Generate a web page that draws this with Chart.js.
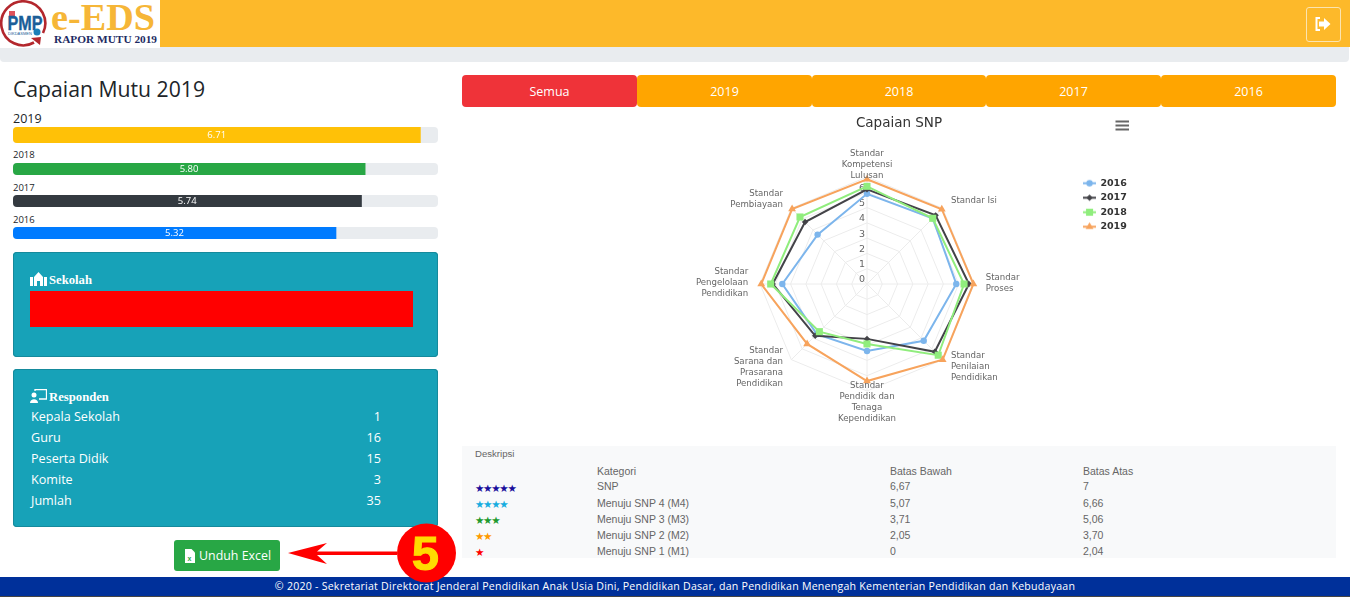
<!DOCTYPE html>
<html lang="id"><head><meta charset="utf-8"><title>Capaian SNP</title>
<script src="https://cdn.jsdelivr.net/npm/chart.js@4"></script>
<style>
html,body{margin:0;padding:0;background:#fff;width:1350px;height:597px;overflow:hidden;font-family:"Open Sans",sans-serif;color:#212529}
.a{position:absolute;white-space:nowrap}
canvas{display:block}
.tab{position:absolute;top:75px;height:32px;line-height:33.5px;text-align:center;color:#fff;font-size:12.5px;background:#ffa500;border-radius:4px}
.box{position:absolute;left:13px;width:425px;background:#17a2b8;border-radius:4px;box-shadow:inset 0 0 0 1px #158a9c}
.bt{position:absolute;left:49px;font:bold 12.7px "Liberation Serif",serif;color:#fff}
.row{position:absolute;left:31px;width:350px;color:#fff;font-size:12.6px;line-height:21px;display:flex;justify-content:space-between}
.tb{position:absolute;font:10.5px "Liberation Sans",sans-serif;color:#666;white-space:nowrap;line-height:12px}
.st{position:absolute;left:475px;font:10.5px/12px "DejaVu Sans",sans-serif;letter-spacing:-1.3px}
</style></head><body>
<div class="a" style="left:0;top:0;width:1350px;height:47px;background:#fdb92a"></div>
<div class="a" style="left:0;top:47px;width:1349px;height:15px;background:#e9ecef;border-radius:0 0 4px 4px"></div>
<svg class="a" style="left:0;top:0" width="160" height="48" viewBox="0 0 160 48">
<rect width="160" height="48" fill="#fff"/>
<path d="M34 42.500A22 22 0 1 1 43 33" fill="none" stroke="#b3272d" stroke-width="2.600"/>
<path d="M31 38L41 37L40 45Z" fill="#b3272d"/>
<path d="M9 11H15V16H9Z" fill="#e0525a"/>
<text x="7.500" y="30" font-family="Liberation Sans" font-weight="bold" font-size="21" fill="#1b5e98" stroke="#1b5e98" stroke-width=".4" textLength="35" lengthAdjust="spacingAndGlyphs">PMP</text>
<text x="8" y="34.500" font-family="Liberation Sans" font-size="4" fill="#1b5e98">DIKDASMEN</text>
<circle cx="37" cy="32" r="3.500" fill="#1b7fb8"/>
<text x="51" y="30" font-family="Liberation Serif" font-weight="bold" font-size="38" fill="#f6b637" textLength="104" lengthAdjust="spacingAndGlyphs">e-EDS</text>
<text x="54" y="43" font-family="Liberation Serif" font-weight="bold" font-size="10.400" fill="#1d2a63" textLength="103" lengthAdjust="spacingAndGlyphs">RAPOR MUTU 2019</text>
</svg>
<div class="a" style="left:1306px;top:7px;width:33px;height:33px;border:1px solid #fbe4b0;border-radius:3px"></div>
<svg class="a" style="left:1315px;top:17px" width="16" height="14" viewBox="0 0 16 14"><path d="M5 1H1.500V13H5" fill="none" stroke="#fff" stroke-width="2"/><path d="M4 4.500H9V1L15.500 7L9 13V9.500H4Z" fill="#fff"/></svg>

<div class="a" id="pageTitle" style="left:13px;top:73px;font-size:21.2px;line-height:32px">Capaian Mutu 2019</div>
<div id="bars"></div>

<div class="box" style="top:252px;height:105px"></div>
<svg class="a" style="left:30px;top:272px" width="17" height="14" viewBox="0 0 17 14"><path d="M0 14V5H3V14ZM14 14V5H17V14ZM4 14V5L8.500 0L13 5V14H10V9H7V14Z" fill="#fff"/></svg>
<div class="bt" style="top:272.500px">Sekolah</div>
<div class="a" style="left:30px;top:291px;width:383px;height:36px;background:#f00"></div>

<div class="box" style="top:369px;height:158px"></div>
<svg class="a" style="left:30px;top:389px" width="17" height="14" viewBox="0 0 17 14"><circle cx="4" cy="6" r="2.500" fill="#fff"/><path d="M0 14C0 9 8 9 8 14Z" fill="#fff"/><path d="M5 2V0.500H16.500V10H9" fill="none" stroke="#fff" stroke-width="1.300"/></svg>
<div class="bt" style="top:389.500px">Responden</div>
<div id="resp"></div>

<div class="a" style="left:174px;top:540px;width:106px;height:31px;background:#28a745;border-radius:3px"></div>
<svg class="a" style="left:185px;top:549px" width="10" height="14" viewBox="0 0 10 14"><path d="M0 0H6.500L10 3.500V14H0Z" fill="#fff"/><text x="2.500" y="12" font-family="Liberation Sans" font-weight="bold" font-size="7" fill="#28a745">x</text></svg>
<div class="a" style="left:199px;top:546px;font-size:12.4px;line-height:20px;color:#fff">Unduh Excel</div>

<div class="a" style="left:462px;top:446px;width:874px;height:112px;background:#f8f9fa"></div>
<div id="table"></div>

<div id="tabs"></div>
<div class="a" style="left:462px;top:110px"><canvas id="radar" width="874" height="330" style="width:874px;height:330px"></canvas></div>
<svg class="a" style="left:1115px;top:120px" width="15" height="11"><path d="M0.500 1.500H14M0.500 5.500H14M0.500 9.500H14" stroke="#666" stroke-width="2"/></svg>

<div class="a" style="left:0;top:577px;width:1350px;height:19px;background:#00309a;color:#fff;text-align:center;font-size:10.6px;line-height:19px;letter-spacing:.23px">© 2020 - Sekretariat Direktorat Jenderal Pendidikan Anak Usia Dini, Pendidikan Dasar, dan Pendidikan Menengah Kementerian Pendidikan dan Kebudayaan</div>
<div class="a" style="left:0;top:596px;width:1350px;height:1px;background:#444"></div>

<svg class="a" style="left:285px;top:520px" width="175" height="66" viewBox="285 520 175 66">
<path d="M288 553L327 543L317 551.500H397V555H317L327 564Z" fill="#f00"/>
<circle cx="426.500" cy="553" r="29.500" fill="#f00"/>
<text x="425.500" y="570" text-anchor="middle" font-family="Liberation Sans" font-weight="bold" font-size="49" fill="#ffdc00" stroke="#ffdc00" stroke-width="1">5</text>
</svg>

<script>
const categories = [
  ["Standar","Kompetensi","Lulusan"],["Standar Isi"],["Standar","Proses"],
  ["Standar","Penilaian","Pendidikan"],["Standar","Pendidik dan","Tenaga","Kependidikan"],
  ["Standar","Sarana dan","Prasarana","Pendidikan"],["Standar","Pengelolaan","Pendidikan"],["Standar","Pembiayaan"]
];
const seriesNames = ["2016","2017","2018","2019"];
const values2016 = [5.90,6.08,5.84,5.25,4.38,4.64,5.54,4.57];
const values2017 = [6.19,6.35,6.67,6.27,3.59,4.79,6.17,5.73];
const values2018 = [6.39,6.08,6.35,6.59,3.92,4.41,6.30,6.20];
const values2019 = [6.85,6.92,6.96,7.00,6.35,5.54,6.92,6.93];
const radialTicks = [0,1,2,3,4,5,6];

const progressYears = ["2019","2018","2017","2016"];
const progressValues = [6.71,5.80,5.74,5.32];

const tabLabels = ["Semua","2019","2018","2017","2016"];
const respondenNames = ["Kepala Sekolah","Guru","Peserta Didik","Komite","Jumlah"];
const respondenCounts = [1,16,15,3,35];
const kategori = ["SNP","Menuju SNP 4 (M4)","Menuju SNP 3 (M3)","Menuju SNP 2 (M2)","Menuju SNP 1 (M1)"];
const batasBawah = ["6,67","5,07","3,71","2,05","0"];
const batasAtas = ["7","6,66","5,06","3,70","2,04"];
const bintang = [5,4,3,2,1];

/* ---------- page furniture built from the lists ---------- */
const el = (parent, cls, css, text) => { const d = document.createElement('div'); d.className = cls; d.style.cssText = css; if (text !== undefined) d.textContent = text; parent.appendChild(d); return d; };
const tabEdges = [462,637,812,986,1161,1336];
tabLabels.forEach((t,i) => el(document.getElementById('tabs'),'tab',`left:${tabEdges[i]}px;width:${tabEdges[i+1]-tabEdges[i]}px;${i===0?'background:#ef3339;':''}`,t));
const respEl = document.getElementById('resp');
respondenNames.forEach((n,i) => { const r = el(respEl,'row',`top:${406+i*21}px`); el(r,'','',n); el(r,'','',String(respondenCounts[i])); });
const tableEl = document.getElementById('table');
const rowY = [480,496.500,512.500,528.500,544.500];
const starCol = ["#1a0f9c","#17ade0","#1f9a2e","#ff9a00","#f00"];
el(tableEl,'tb','left:475px;top:448px;font-size:9.6px','Deskripsi');
el(tableEl,'tb','left:597px;top:465px','Kategori');
el(tableEl,'tb','left:890px;top:465px','Batas Bawah');
el(tableEl,'tb','left:1083px;top:465px','Batas Atas');
kategori.forEach((k,i) => {
  el(tableEl,'st',`top:${rowY[i]+1.5}px;color:${starCol[i]}`,'★'.repeat(bintang[i]));
  el(tableEl,'tb',`left:597px;top:${rowY[i]}px`,k);
  el(tableEl,'tb',`left:890px;top:${rowY[i]}px`,batasBawah[i]);
  el(tableEl,'tb',`left:1083px;top:${rowY[i]}px`,batasAtas[i]);
});

/* ---------- progress bars, one small Chart.js bar chart per year ---------- */
const progressColors = ["#ffc107","#28a745","#343a40","#007bff"];
const progressBoxes = [{lab:111,top:127,h:16,f:12.5},{lab:147,top:163,h:12,f:9.5},{lab:179.500,top:195,h:12,f:9.5},{lab:211.500,top:227,h:12,f:9.5}];
const barsEl = document.getElementById('bars');
const barValuePlugin = { id:'barValue', afterDatasetsDraw(c){
  const x = c.scales.x, v = c.data.datasets[0].data[0], ctx = c.ctx;
  ctx.save(); ctx.fillStyle='#fff'; ctx.font='9.5px "Open Sans"'; ctx.textAlign='center'; ctx.textBaseline='middle';
  ctx.fillText(v.toFixed(2),(x.getPixelForValue(0)+x.getPixelForValue(v))/2,c.height/2+0.5); ctx.restore();
}};
progressYears.forEach((y,i) => {
  const b = progressBoxes[i];
  el(barsEl,'a',`left:13px;top:${b.lab}px;font-size:${b.f}px;line-height:16px`,y);
  const w = el(barsEl,'a',`left:13px;top:${b.top}px;width:425px;height:${b.h}px;background:#e9ecef;border-radius:4px;overflow:hidden`);
  const cv = document.createElement('canvas'); cv.width=425; cv.height=b.h; cv.style.cssText=`width:425px;height:${b.h}px`; w.appendChild(cv);
  new Chart(cv,{type:'bar',plugins:[barValuePlugin],
    data:{labels:[y],datasets:[{data:[progressValues[i]],backgroundColor:progressColors[i],barPercentage:1,categoryPercentage:1}]},
    options:{indexAxis:'y',responsive:false,animation:false,events:[],layout:{padding:0},
      plugins:{legend:{display:false},title:{display:false},tooltip:{enabled:false}},
      scales:{x:{display:false,min:0,max:7},y:{display:false}}}});
});

/* ---------- radar ---------- */
const seriesValues = [values2016,values2017,values2018,values2019];
const seriesColors = ["#7cb5ec","#434348","#90ed7d","#f7a35c"];
const seriesStyles = ["circle","rectRot","rect","triangle"];
const seriesRadii = [3.2,3.2,5,4.5];

function legendMark(i){
  const c = document.createElement('canvas'); c.width=13; c.height=11;
  const x = c.getContext('2d');
  x.strokeStyle=seriesColors[i]; x.lineWidth=2; x.beginPath(); x.moveTo(0,5.5); x.lineTo(13,5.5); x.stroke();
  x.fillStyle=seriesColors[i]; x.strokeStyle=seriesColors[i];
  Chart.helpers.drawPoint(x,{pointStyle:seriesStyles[i],radius:seriesRadii[i],rotation:0,borderWidth:0},6.5,5.5);
  return c;
}
const labelOffsets = [
  {a:'center',dx:0,dy:-23.5},{a:'left',dx:8.3,dy:-7.6},{a:'left',dx:11.7,dy:-6},{a:'left',dx:8.3,dy:-3.5},
  {a:'center',dx:0,dy:-5.6},{a:'right',dx:-8.3,dy:-9.3},{a:'right',dx:-11.7,dy:-12},{a:'right',dx:-8.3,dy:-14.6}];
const radarLabels = {
  id:'radarLabels',
  afterLayout(c){ // legend sits beside the web, not at the canvas edge; title stays centred on the canvas
    const l = c.legend, w = l.width, h = l.height, L = 1083.4-462-l.options.labels.padding, T = 176-110-2.5;
    l.left=L; l.right=L+w; l.top=T; l.bottom=T+h;
    c.titleBlock.left+=2.5; c.titleBlock.right+=2.5;
  },
  beforeDatasetsDraw(c){
    const s = c.scales.r, ctx = c.ctx;
    ctx.save(); ctx.fillStyle='#666'; ctx.font='9.5px "DejaVu Sans"'; ctx.textAlign='center'; ctx.textBaseline='middle';
    radialTicks.forEach(v => ctx.fillText(String(v), s.xCenter-5, s.yCenter-s.getDistanceFromCenterForValue(v)-4));
    ctx.restore();
  },
  afterDatasetsDraw(c){
    const s = c.scales.r, ctx = c.ctx;
    ctx.save(); ctx.fillStyle='#666'; ctx.font='8.6px "DejaVu Sans"'; ctx.textBaseline='middle';
    categories.forEach((lines,i) => {
      const p = s.getPointPosition(i,s.getDistanceFromCenterForValue(7)), o = labelOffsets[i];
      ctx.textAlign=o.a;
      lines.forEach((t,j) => ctx.fillText(t,p.x+o.dx,p.y+o.dy+j*11));
    });
    ctx.restore();
  }
};
new Chart(document.getElementById('radar'),{
  type:'radar', plugins:[radarLabels],
  data:{labels:categories.map(l=>l.join(' ')),
    datasets:seriesNames.map((n,i)=>({label:n,data:seriesValues[i],order:4-i,fill:false,tension:0,
      borderColor:seriesColors[i],backgroundColor:seriesColors[i],borderWidth:2,
      pointStyle:seriesStyles[i],pointRadius:seriesRadii[i],pointBackgroundColor:seriesColors[i],pointBorderColor:seriesColors[i],pointBorderWidth:0}))},
  options:{responsive:false,animation:false,events:[],
    layout:{padding:{bottom:48,right:5}},
    plugins:{
      tooltip:{enabled:false},
      title:{display:true,text:'Capaian SNP',color:'#333',font:{family:'"DejaVu Sans"',size:13.5,weight:'normal'},padding:{top:5,bottom:46}},
      legend:{position:'right',align:'start',labels:{usePointStyle:true,pointStyleWidth:12.25,boxHeight:9,padding:5,color:'#333',font:{family:'"DejaVu Sans"',size:9.5,weight:'bold'},
        sort:(a,b)=>a.datasetIndex-b.datasetIndex,
        generateLabels(c){ return Chart.defaults.plugins.legend.labels.generateLabels(c).map(it=>({...it,pointStyle:legendMark(it.datasetIndex)})); }}}
    },
    scales:{r:{min:0,max:7,ticks:{stepSize:1,display:false},pointLabels:{display:false},
      grid:{circular:false,color:'#ececec',lineWidth:1},angleLines:{color:'#ececec',lineWidth:1}}}
  }
});
</script>
</body></html>
